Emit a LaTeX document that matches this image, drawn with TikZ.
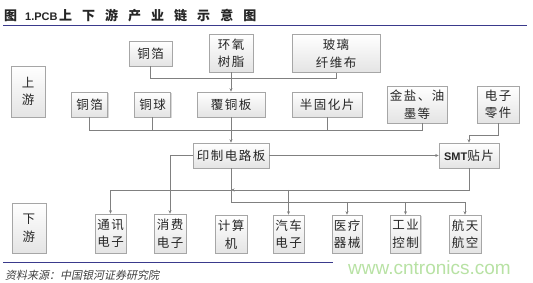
\documentclass[tikz,border=0pt]{standalone}
\usepackage{fontspec}
\setmainfont{Noto Sans CJK SC}
\newfontfamily\boxfont[LetterSpace=12]{Noto Sans CJK SC}
\newfontfamily\titlefont[LetterSpace=77]{Noto Sans CJK SC}
\newfontfamily\srcfont[FakeSlant=0.2]{Noto Sans CJK SC}
\newfontfamily\latfont{Liberation Sans}
\usetikzlibrary{arrows.meta,shadows}
\definecolor{navy}{HTML}{3A3A8C}
\definecolor{boxline}{HTML}{A6A6A6}
\definecolor{boxbot}{HTML}{E4E4E4}
\definecolor{linegray}{HTML}{808080}
\definecolor{wmgreen}{HTML}{B8E2A4}
\definecolor{titlecol}{HTML}{262626}
\definecolor{srccol}{HTML}{404040}
\definecolor{txtcol}{HTML}{262626}
\begin{document}
\begin{tikzpicture}[x=1pt,y=-1pt,
  bx/.style={draw=boxline, line width=0.6pt, top color=white, bottom color=boxbot,
    drop shadow={shadow xshift=1pt,shadow yshift=-1pt,fill=black!30,opacity=0.5},
    inner sep=0pt, align=center, text=txtcol,
    font=\boxfont\fontsize{12.5}{17.5}\selectfont},
  conn/.style={draw=linegray, line width=0.7pt},
  arr/.style={conn, -{Stealth[length=3.5pt,width=3pt]}}]
\fill[white] (0,0) rectangle (533,283);
\useasboundingbox (0,0) rectangle (533,283);

% title and rules
\node[anchor=west, inner sep=0, text=titlecol] (title) at (4,15.5)
  {{\bfseries\fontsize{13}{13}\selectfont 图}\hspace{8pt}{\latfont\bfseries\fontsize{11}{11}\selectfont 1.PCB}\hspace{1.6pt}{\titlefont\bfseries\fontsize{13}{13}\selectfont 上下游产业链示意图}};
\coordinate (tl) at (3,25.5); \coordinate (tr) at (527,25.5);
\draw[navy, line width=1.6pt] (tl) -- (tr);
\coordinate (bl) at (3,262.5); \coordinate (br) at (333,262.5);
\draw[navy, line width=1.4pt] (bl) -- (br);
\node[anchor=west, inner sep=0, text=srccol] (src) at (5,275.5)
  {\srcfont\fontsize{11}{11}\selectfont 资料来源：中国银河证券研究院};
\node[anchor=base west, inner sep=0, text=wmgreen] (wm) at (348,274)
  {\latfont\fontsize{19}{19}\selectfont www.cntronics.com};

% upstream
\node[bx, minimum width=34pt, minimum height=51pt] (up) at (28,91.5) {上\\游};
\node[bx, minimum width=43pt, minimum height=25pt] (cf1) at (150.5,53.5) {铜箔};
\node[bx, minimum width=44pt, minimum height=38pt] (epoxy) at (231,53) {环氧\\树脂};
\node[bx, minimum width=88pt, minimum height=38pt] (glass) at (336,53.5) {玻璃\\纤维布};
\node[bx, minimum width=36pt, minimum height=25pt] (cf2) at (89.5,104.5) {铜箔};
\node[bx, minimum width=36pt, minimum height=25pt] (ball) at (152.7,104.5) {铜球};
\node[bx, minimum width=68pt, minimum height=25pt] (ccl) at (231,104.5) {覆铜板};
\node[bx, minimum width=70pt, minimum height=25pt] (prepreg) at (327,104.5) {半固化片};
\node[bx, minimum width=60pt, minimum height=37pt] (gold) at (417,104.5) {金盐、油\\墨等};
\node[bx, minimum width=42pt, minimum height=37pt] (parts) at (498,104.5) {电子\\零件};

% middle
\node[bx, minimum width=76pt, minimum height=25pt] (pcb) at (231,155.5) {印制电路板};
\node[bx, minimum width=60pt, minimum height=25pt] (smt) at (469,155.5)
  {{\latfont\bfseries\fontsize{11}{11}\selectfont SMT}贴片};

% downstream
\node[bx, minimum width=34pt, minimum height=50pt] (down) at (29,228) {下\\游};
\node[bx, minimum width=31pt, minimum height=39pt] (comm) at (110.5,233.5) {通讯\\电子};
\node[bx, minimum width=32pt, minimum height=39pt] (cons) at (170,233.5) {消费\\电子};
\node[bx, minimum width=32pt, minimum height=38pt] (comp) at (231,234.5) {计算\\机};
\node[bx, minimum width=31pt, minimum height=38pt] (auto) at (288.5,234) {汽车\\电子};
\node[bx, minimum width=30pt, minimum height=38pt] (med) at (347,234) {医疗\\器械};
\node[bx, minimum width=30pt, minimum height=38pt] (ind) at (405.5,234) {工业\\控制};
\node[bx, minimum width=32pt, minimum height=38pt] (aero) at (465,234) {航天\\航空};

% bus levels
\coordinate (j1) at (0,78);
\coordinate (j2) at (0,130);
\coordinate (j3) at (0,135);
\coordinate (j4) at (0,190);
\coordinate (j5) at (0,202);
\coordinate (gt) at ([xshift=5pt]gold.south);

% upstream connectors
\draw[conn] (cf1.south) |- (glass.south |- j1) -- (glass.south);
\draw[arr] (epoxy.south) -- (ccl.north);
\draw[conn] (cf2.south) |- (gt |- j2) -- (gt);
\draw[conn] (ball.south) -- (ball.south |- j2);
\draw[conn] (prepreg.south) -- (prepreg.south |- j2);
\draw[arr] (ccl.south) -- (pcb.north);
\draw[arr] (parts.south) |- (smt.north |- j3) -- (smt.north);

% middle connectors
\draw[arr] (pcb.east) -- (smt.west);
\draw[arr] (pcb.west) -| (cons.north);
\draw[arr] (smt.south) |- (pcb.south |- j4);
\draw[arr] (pcb.south |- j4) -| (comm.north);
\draw[arr] (auto.north |- j4) -- (auto.north);
\draw[arr] (pcb.south) |- (aero.north |- j5) -- (aero.north);
\draw[arr] (med.north |- j5) -- (med.north);
\draw[arr] (ind.north |- j5) -- (ind.north);
\end{tikzpicture}
\end{document}
